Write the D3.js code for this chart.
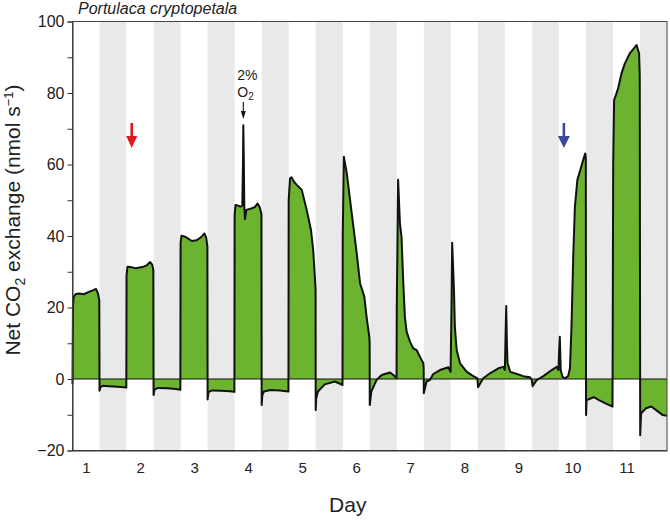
<!DOCTYPE html>
<html>
<head>
<meta charset="utf-8">
<script src="https://cdn.jsdelivr.net/npm/d3@7"></script>
<style>
  html, body { margin: 0; padding: 0; background: #fff; }
  svg { display: block; font-family: "Liberation Sans", Arial, Helvetica, sans-serif; }
</style>
</head>
<body>
<svg id="chart" width="670" height="520"></svg>
<script>
// ---- data (hours since start, net CO2 exchange in nmol s-1) ----
const hours = [
  0, 0.2, 0.5, 1.5, 3, 5, 7, 9, 10.4, 11.3, 11.9,
  12.0, 12.4, 13.5, 16, 20, 23.9,
  24.0, 24.4, 26, 28, 31, 33, 34.5, 35.4, 35.9,
  36.0, 36.4, 38, 42, 46, 47.9,
  48.0, 48.4, 50, 53, 55, 57, 58.6, 59.4, 59.9,
  60.0, 60.4, 62, 66, 70, 71.9,
  72.0, 72.4, 73.5, 74.5, 75.4, 75.7, 75.85, 76.1, 76.3, 76.6, 77.2, 79, 81, 82.2, 83.2, 83.9,
  84.0, 84.3, 85, 88, 92, 95.9,
  96.0, 96.6, 97.3, 98.3, 99.6, 101.8, 104.0, 105.9, 106.9, 107.7, 107.95,
  108.0, 108.2, 109, 112, 116.5, 119, 119.9,
  120.0, 120.5, 121.8, 124.0, 126.2, 127.7, 129.6, 130.6, 131.8, 131.95,
  132.0, 132.7, 135, 137.3, 141, 142.5, 143.9,
  144.0, 144.6, 145.4, 146.1, 146.9, 147.6, 148.4, 149.9, 151.3, 152.8, 154.3, 155.8, 155.95,
  156.0, 157.2, 158.7, 160.2, 163.2, 166.9, 167.9,
  168.3, 168.6, 169.4, 169.8, 170.6, 172.1, 175.1, 178.0, 179.8,
  180.1, 182.4, 185.4, 189.1, 191.3, 192.0,
  192.3, 192.6, 192.9, 193.2, 194.4, 197.4, 200.2, 203.2, 204.0,
  204.3, 206.1, 209.1, 212.8, 215.0, 215.8,
  216.1, 216.4, 216.8, 217.6, 218.7, 220.1, 220.9, 221.6, 222.4, 223.1, 224.2, 225.3, 226.8, 227.7, 227.95,
  228.05, 228.3, 229.5, 231.5, 233.8, 236.7, 239.8,
  240.1, 240.5, 241.3, 242.3, 243.8, 245.3, 247.5, 249.3, 250.5, 251.6, 251.9,
  252.1, 252.5, 254.7, 257.0, 259.2, 262.1, 264
];
const co2 = [
  -1.5, 20, 23.0, 23.8, 23.9, 23.7, 24.3, 24.8, 25.2, 24.0, 22.0,
  -3.3, -2.3, -1.9, -2.0, -2.2, -2.4,
  29, 31.4, 31.3, 31.0, 31.3, 31.8, 32.7, 32.0, 30.5,
  -4.5, -3.0, -2.5, -2.6, -2.8, -3.0,
  38, 40.1, 39.8, 38.6, 38.8, 39.6, 40.7, 39.5, 37,
  -5.7, -3.7, -3.2, -3.3, -3.4, -3.6,
  46, 48.7, 48.5, 48.2, 48.5, 60, 71, 60, 48, 44.7, 47.3, 47.6, 48.1, 49.1, 48.0, 46.0,
  -7.3, -4.5, -3.5, -3.1, -3.2, -3.5,
  50, 56.1, 56.4, 55.2, 54.3, 52.9, 47.3, 41.7, 36, 27.7, 25,
  -8.7, -5.5, -3.5, -1.5, -0.7, -1.4, -1.7,
  40, 62.2, 57.5, 46.3, 35.2, 26.8, 23.0, 17.4, 11.8, 10,
  -7.3, -3.5, -0.3, 1.1, 1.8, 1.1, 0.2,
  20, 55.7, 43.5, 39.8, 26.8, 17.4, 13.2, 10.4, 8.6, 8.1, 6.2, 4.4, 3,
  -4.0, -0.7, -0.3, 1.4, 2.5, 3.3, 2.0,
  20, 38.1, 24.9, 14.6, 8.1, 4.4, 2.0, 0.8, 0.2,
  -2.3, 0.2, 1.6, 3.0, 3.4, 2.5,
  12, 20.4, 10, 4.4, 2.0, 1.4, 0.8, 0.5, -0.3,
  -2.0, -0.3, 0.8, 2.5, 3.4, 2.5,
  8, 11.8, 2.5, 0.6, 0.2, 0.8, 3, 15, 35.2, 48.2, 55.7, 58.0, 61.3, 63.1, 62,
  -10.1, -5.9, -5.6, -5.1, -5.9, -6.8, -7.7,
  60, 78.0, 79.4, 81.3, 85.5, 88.3, 91.1, 92.5, 93.4, 91.1, 85,
  -15.7, -9.6, -8.2, -7.7, -8.7, -10.1, -10.3
];
const darkStarts = [12, 36, 60, 84, 108, 132, 156, 180, 204, 228, 252];
const darkLength = 12;
const dayTicks = [6, 30, 54, 78, 102, 126, 150, 174, 198, 222, 246];
const dayLabels = ["1", "2", "3", "4", "5", "6", "7", "8", "9", "10", "11"];
const yMajor = [-20, 0, 20, 40, 60, 80, 100];
const yMinor = [-10, 10, 30, 50, 70, 90];
const hourDomain = [0, 264];
const yDomain = [-20, 100];
const o2PulseHour = 75.85;   // 2% O2 annotation
const redArrowHour = 26.3;   // red arrow (day 2)
const blueArrowHour = 218.2; // blue arrow (day 10)

// ---- layout ----
const svg = d3.select("#chart");
const L = 72.5, R = 667, T = 21.5, B = 450.5;
const x = d3.scaleLinear().domain(hourDomain).range([L, R]);
const y = d3.scaleLinear().domain(yDomain).range([B, T]);
const pts = hours.map((h, i) => [h, co2[i]]);

// dark bands
svg.append("g").selectAll("rect").data(darkStarts).join("rect")
  .attr("x", d => x(d)).attr("y", T)
  .attr("width", d => x(d + darkLength) - x(d)).attr("height", B - T)
  .attr("fill", "#e9e9e9");

// area fill
svg.append("path").datum(pts)
  .attr("d", d3.area().x(d => x(d[0])).y0(y(0)).y1(d => y(d[1])))
  .attr("fill", "#6cb330");

// zero line
svg.append("line").attr("x1", L).attr("x2", R).attr("y1", y(0)).attr("y2", y(0))
  .attr("stroke", "#111").attr("stroke-width", 1);

// curve
svg.append("path").datum(pts)
  .attr("d", d3.line().x(d => x(d[0])).y(d => y(d[1])))
  .attr("fill", "none").attr("stroke", "#111").attr("stroke-width", 2)
  .attr("stroke-linejoin", "round");

// frame
svg.append("rect").attr("x", L).attr("y", T).attr("width", R - L).attr("height", B - T)
  .attr("fill", "none").attr("stroke", "#444").attr("stroke-width", 1);

// y axis
const yAxis = svg.append("g").attr("transform", `translate(${L},0)`)
  .call(d3.axisLeft(y).tickValues(yMajor).tickSize(5).tickPadding(3)
    .tickFormat(d => d < 0 ? "\u2212" + Math.abs(d) : d));
yAxis.select(".domain").attr("stroke", "#333");
yAxis.selectAll(".tick line").attr("stroke", "#333");
yAxis.selectAll("text").attr("font-size", 16).attr("fill", "#222")
  .attr("font-family", "Liberation Sans, Arial, sans-serif");
svg.append("g").attr("transform", `translate(${L},0)`)
  .call(d3.axisLeft(y).tickValues(yMinor).tickSize(5).tickFormat(""))
  .call(g => g.select(".domain").remove())
  .selectAll(".tick line").attr("stroke", "#333");

// x axis labels
const xAxis = svg.append("g").attr("transform", `translate(0,${B})`)
  .call(d3.axisBottom(x).tickValues(dayTicks).tickSize(0).tickPadding(12)
    .tickFormat((d, i) => dayLabels[i]));
xAxis.select(".domain").attr("stroke", "#333");
xAxis.selectAll("text").attr("font-size", 15).attr("fill", "#222")
  .attr("font-family", "Liberation Sans, Arial, sans-serif");

// titles
svg.append("text").attr("x", 78).attr("y", 14)
  .attr("font-size", 16).attr("font-style", "italic").attr("fill", "#222")
  .text("Portulaca cryptopetala");

svg.append("text").attr("x", (L + R) / 2 - 22).attr("y", 512)
  .attr("text-anchor", "middle").attr("font-size", 21).attr("fill", "#222")
  .text("Day");

const yt = svg.append("text")
  .attr("transform", "translate(20,220) rotate(-90)")
  .attr("text-anchor", "middle").attr("font-size", 21).attr("fill", "#222");
yt.append("tspan").text("Net CO");
yt.append("tspan").attr("font-size", 14).attr("dy", 5).text("2");
yt.append("tspan").attr("dy", -5).text(" exchange (nmol s");
yt.append("tspan").attr("font-size", 13).attr("dy", -7).text("\u22121");
yt.append("tspan").attr("dy", 7).text(")");

// 2% O2 annotation
const ox = x(o2PulseHour);
const ann = svg.append("g").attr("font-size", 14).attr("fill", "#222");
ann.append("text").attr("x", ox - 6).attr("y", 80).text("2%");
const o2 = ann.append("text").attr("x", ox - 6).attr("y", 97);
o2.append("tspan").text("O");
o2.append("tspan").attr("font-size", 10).attr("dy", 3).text("2");
svg.append("line").attr("x1", ox).attr("x2", ox).attr("y1", 102).attr("y2", 112)
  .attr("stroke", "#111").attr("stroke-width", 1.1);
svg.append("path").attr("d", `M${ox - 2.5},111 L${ox + 2.5},111 L${ox},119 Z`).attr("fill", "#111");

// coloured arrows
function bigArrow(cx, color, hw) {
  svg.append("line").attr("x1", cx).attr("x2", cx).attr("y1", 123).attr("y2", 138)
    .attr("stroke", color).attr("stroke-width", 2.6);
  svg.append("path").attr("d", `M${cx - hw},136 L${cx + hw},136 L${cx},148 Z`).attr("fill", color);
}
bigArrow(x(redArrowHour), "#e3161d", 5.5);
bigArrow(x(blueArrowHour), "#3b4a9f", 6);
</script>
</body>
</html>
